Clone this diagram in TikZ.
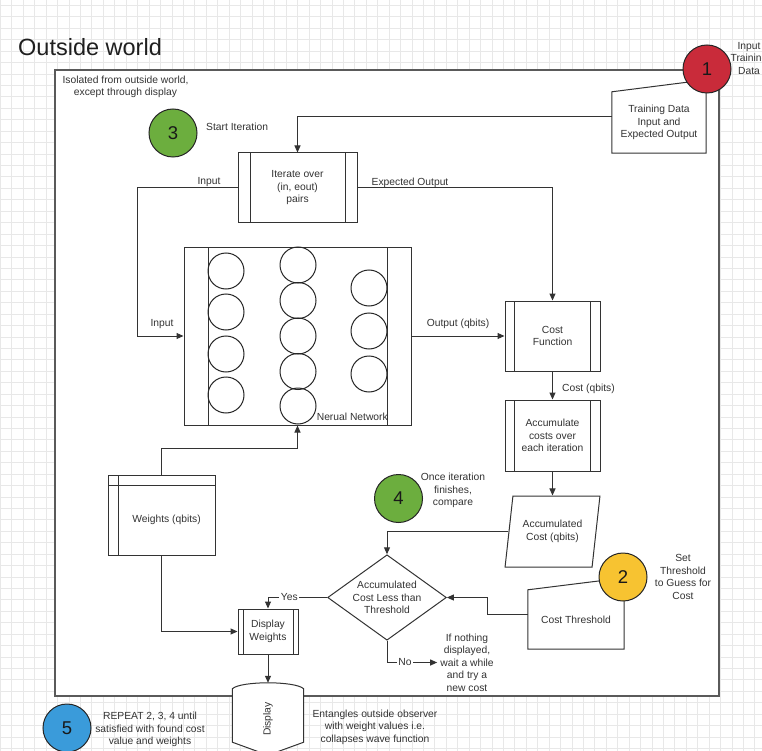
\documentclass[tikz,border=0pt]{standalone}
\usepackage{fontspec}
\setmainfont{Liberation Sans}
\usetikzlibrary{arrows.meta,shapes.geometric,backgrounds}
\definecolor{ink}{HTML}{333333}
\definecolor{gridline}{HTML}{E8E8E8}
\definecolor{framegray}{HTML}{5A5A5A}
\definecolor{badgered}{HTML}{C92B3A}
\definecolor{badgegreen}{HTML}{6CAE3E}
\definecolor{badgeyellow}{HTML}{F7C331}
\definecolor{badgeblue}{HTML}{3A9BDA}
\begin{document}
\begin{tikzpicture}[x=1pt, y=-1pt,
  txt/.style={font=\fontsize{10.3}{12.5}\selectfont, text=ink, align=center, inner sep=0pt},
  flow/.style={draw=ink, line width=1pt},
  arr/.style={flow, -{Triangle[length=7pt,width=6pt]}},
  flowbox/.style={txt, draw=ink, line width=1pt, rectangle, inner sep=2pt},
  subr/.style={flowbox, path picture={\draw[ink, line width=1pt]
      ([xshift=#1]path picture bounding box.north west) -- ([xshift=#1]path picture bounding box.south west)
      ([xshift=-#1]path picture bounding box.north east) -- ([xshift=-#1]path picture bounding box.south east);}},
  storage/.style={flowbox, path picture={\draw[ink, line width=1pt]
      ([xshift=#1]path picture bounding box.north west) -- ([xshift=#1]path picture bounding box.south west)
      ([yshift=-#1]path picture bounding box.north west) -- ([yshift=-#1]path picture bounding box.north east);}},
  neuron/.style={circle, draw=black!85, line width=1pt, minimum size=36pt, inner sep=0pt},
  badge/.style={circle, draw=black!85, line width=1pt, minimum size=48pt, inner sep=0pt,
      font=\fontsize{18.5}{20}\selectfont, text=black!90},
]
\useasboundingbox (0,0) rectangle (762,751);

% sheet grid and the isolated frame
\begin{scope}[on background layer]
  \fill[white] (0,0) rectangle (762,751);
  \foreach \i in {0,...,66} \draw[gridline, line width=0.7pt] ({0.4+11.43*\i},0) -- ++(0,751);
  \foreach \j in {0,...,65} \draw[gridline, line width=0.7pt] (0,{5.4+11.43*\j}) -- ++(762,0);
  \draw[framegray, line width=2pt, fill=white] (55,70) rectangle (719,696);
\end{scope}

\node[anchor=west, inner sep=0pt, font=\fontsize{23.5}{26}\selectfont, text=black!88] (title) at (18,47) {Outside world};
\node[txt] (isonote) at (125.5,87) {Isolated from outside world,\\except through display};

% training data (manual input)
\node[txt, minimum width=94pt, minimum height=61pt] (td) at (659,122.5) {Training Data\\Input and\\Expected Output};
\draw[flow] (td.south west) -- (td.north west) -- ([yshift=12pt]td.north east) -- (td.south east) -- cycle;

% iteration
\node[subr=12pt, minimum width=119pt, minimum height=70pt] (iter) at (297.5,188) {Iterate over\\(in, eout)\\pairs};

% neural network
\node[subr=24pt, minimum width=227pt, minimum height=178pt] (nn) at (297.5,336) {};
\foreach \y [count=\k] in {271,312,354,395} \node[neuron] (ia\k) at (226,\y) {};
\foreach \y [count=\k] in {265,300.5,336,371.5,406} \node[neuron] (hb\k) at (298,\y) {};
\foreach \y [count=\k] in {288,331,374} \node[neuron] (oc\k) at (369,\y) {};
\node[txt, anchor=east] (nnlabel) at (388,417) {Nerual Network};

% cost chain
\node[subr=9.5pt, minimum width=95pt, minimum height=70pt] (cost) at (552.5,336) {Cost\\Function};
\node[subr=9.5pt, minimum width=95pt, minimum height=71pt] (accum) at (552.5,435.5) {Accumulate\\costs over\\each iteration};
\node[trapezium, trapezium left angle=75, trapezium right angle=105, trapezium stretches=true,
      draw=ink, line width=1pt, txt, minimum width=95pt, minimum height=71pt] (accost) at (552.5,531.5) {Accumulated\\Cost (qbits)};

% decision
\node[diamond, draw=ink, line width=1pt, txt, aspect=1.39, inner sep=1pt,
      minimum width=118pt, minimum height=85pt] (dec) at (387,597.5) {Accumulated\\Cost Less than\\Threshold};

% threshold (manual input)
\node[txt, minimum width=96pt, minimum height=59pt] (thr) at (576,619.5) {Cost Threshold};
\draw[flow] (thr.south west) -- (thr.north west) -- ([yshift=12pt]thr.north east) -- (thr.south east) -- cycle;

% weights and display
\node[storage=10pt, minimum width=107pt, minimum height=80pt] (wts) at (161.5,515)
  {\raisebox{-5pt}[\height][\depth]{\hspace*{10pt}Weights (qbits)}};
\node[subr=5pt, minimum width=60pt, minimum height=45pt] (dispw) at (268,631.5) {Display\\Weights};
\node[txt, minimum width=71pt, minimum height=72pt] (disp) at (268,719) {\rotatebox{90}{Display}};
\begin{scope}[on background layer]
  \filldraw[flow, fill=white] ([yshift=-6pt]disp.north west)
    .. controls ([xshift=8pt,yshift=2pt]disp.north west) and ([xshift=-8pt,yshift=2pt]disp.north east) ..
    ([yshift=-6pt]disp.north east) -- ([yshift=13pt]disp.south east) -- (disp.south)
    -- ([yshift=13pt]disp.south west) -- cycle;
\end{scope}

% notes
\node[txt, anchor=west] (startnote) at (206,127) {Start Iteration};
\node[txt] (oncenote) at (453,490.5) {Once iteration\\finishes,\\compare};
\node[txt] (setnote) at (683,577) {Set\\Threshold\\to Guess for\\Cost};
\node[txt] (inputnote) at (749,58.5) {Input\\Training\\Data};
\node[txt, inner sep=3pt] (waitnote) at (467,662.5) {If nothing\\displayed,\\wait a while\\and try a\\new cost};
\node[txt] (repeatnote) at (150,729.5) {REPEAT 2, 3, 4 until\\satisfied with found cost\\value and weights};
\node[txt] (entnote) at (375,727) {Entangles outside observer\\with weight values i.e.\\collapses wave function};

% connectors
\draw[arr] ([yshift=5.5pt]td.west) -| (iter.north);
\draw[arr] (iter.west) -- ++(-100,0) |- (nn.west);
\draw[arr] (iter.east) -| (cost.north);
\draw[arr] (nn.east) -- (cost.west);
\draw[arr] (cost.south) -- (accum.north);
\draw[arr] (accum.south) -- (accum.south |- accost.north);
\draw[arr] (accost.left side) -| (dec.north);
\draw[arr] ([yshift=5pt]thr.west) -- ++(-40,0) |- (dec.east);
\draw[arr] (dec.west) -| node[pos=0.32, txt, fill=white, inner xsep=1.5pt] {Yes} (dispw.north);
\draw[arr] (dec.south) |- node[pos=0.68, txt, fill=white, inner xsep=1.5pt] {No} (waitnote.west);
\draw[arr] (wts.north) -- ++(0,-26) -| (nn.south);
\draw[arr] (wts.south) |- (dispw.west);
\draw[arr] (dispw.south) -- (disp.north);

% connector labels
\node[txt] (inlabA) at (209,182) {Input};
\node[txt] (inlabB) at (162,324) {Input};
\node[txt] (eolab) at (410,182.5) {Expected Output};
\node[txt] (outlab) at (458,324) {Output (qbits)};
\node[txt] (costlab) at (588.5,389) {Cost (qbits)};

% step badges
\node[badge, fill=badgered] (b1) at (707,69) {1};
\node[badge, fill=badgeyellow] (b2) at (623,577) {2};
\node[badge, fill=badgegreen] (b3) at (173,133) {3};
\node[badge, fill=badgegreen] (b4) at (398.5,498.5) {4};
\node[badge, fill=badgeblue] (b5) at (67,728) {5};
\end{tikzpicture}
\end{document}
